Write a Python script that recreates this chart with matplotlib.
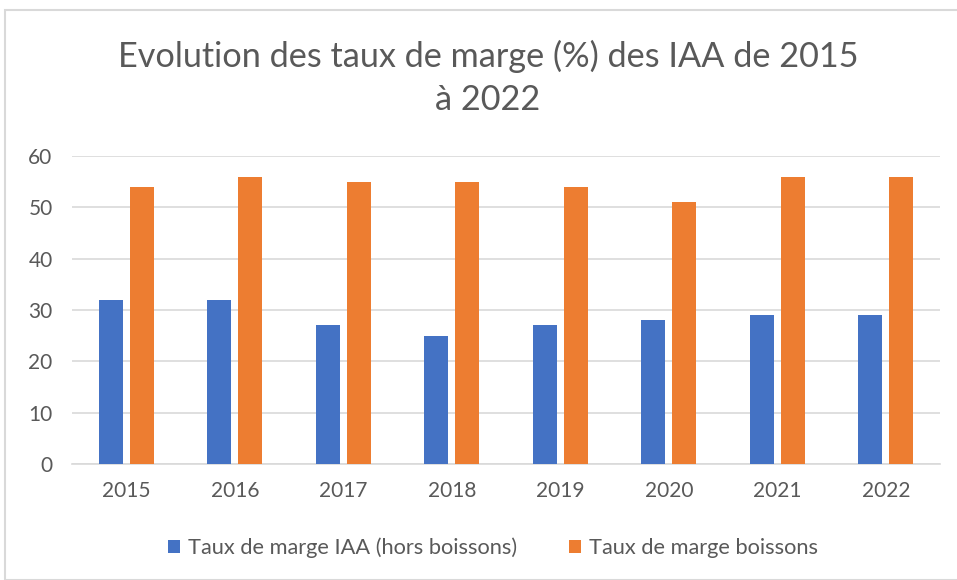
import numpy as np
import matplotlib.pyplot as plt
from matplotlib.patches import Rectangle

annees = ['2015', '2016', '2017', '2018', '2019', '2020', '2021', '2022']
iaa = [32, 32, 27, 25, 27, 28, 29, 29]
boissons = [54, 56, 55, 55, 54, 51, 56, 56]

bleu = '#4472c4'
orange = '#ed7d31'
gris = '#595959'

plt.rcParams['font.family'] = ['Lato', 'DejaVu Sans']

fig = plt.figure(figsize=(9.57, 5.80), dpi=100)
ax = fig.add_axes([72 / 957, 1 - 464 / 580, (940 - 72) / 957, (464 - 156) / 580])

x = np.arange(len(annees))
ax.bar(x - 0.143, iaa, width=0.225, color=bleu, label='Taux de marge IAA (hors boissons)', zorder=3)
ax.bar(x + 0.143, boissons, width=0.225, color=orange, label='Taux de marge boissons', zorder=3)

ax.set_xlim(-0.5, len(annees) - 0.5)
ax.set_ylim(0, 60)
ax.set_yticks(range(0, 61, 10))
ax.set_xticks(x)
ax.set_xticklabels(annees)
ax.grid(axis='y', color='#d9d9d9', linewidth=1.2, zorder=0)
for s in ['top', 'right', 'left']:
    ax.spines[s].set_visible(False)
ax.spines['bottom'].set_color('#d9d9d9')
ax.spines['bottom'].set_linewidth(1.2)
ax.tick_params(axis='both', length=0, labelsize=15, colors=gris)
ax.tick_params(axis='x', pad=12)
ax.tick_params(axis='y', pad=14)

fig.text(488 / 957, 1 - 78 / 580, 'Evolution des taux de marge (%) des IAA de 2015\nà 2022',
         ha='center', va='center', fontsize=24.7, color=gris, linespacing=1.4)

ax.legend(loc='center', bbox_to_anchor=(493 / 957, 1 - 548 / 580), bbox_transform=fig.transFigure,
          ncol=2, frameon=False, fontsize=15.7, labelcolor=gris, handlelength=0.55, handleheight=0.55,
          handletextpad=0.35, columnspacing=2.4)

fig.patches.append(Rectangle((5 / 957, 0), 1.2, 1 - 10 / 580, transform=fig.transFigure,
                             fill=False, edgecolor='#d9d9d9', linewidth=1.5))

fig.savefig('out.png', dpi=100)
